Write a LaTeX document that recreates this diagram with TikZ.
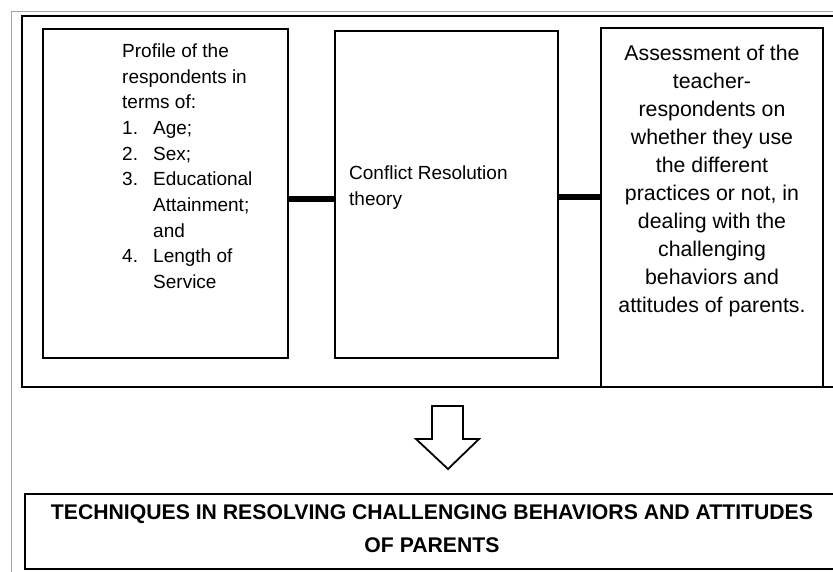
\documentclass[tikz,border=0pt]{standalone}
\usepackage{fontspec}
\setmainfont{Liberation Sans}

\newcommand{\numero}[1]{\makebox[31pt][l]{#1}}

\begin{document}
\begin{tikzpicture}[x=1pt, y=-1pt,
	caja/.style={draw, line width=2.6pt, inner sep=0pt},
	texto/.style={inner sep=0pt, font=\fontsize{19}{25.7}\selectfont},
	barra/.style={line width=6.5pt}]
	
	\useasboundingbox (0,0) rectangle (833,571);
	\clip (0,0) rectangle (833,571);
	
	% marco gris
	\draw[gray!70, line width=1pt] (11,575) -- (11,11) -- (840,11);
	
	% marco de arriba
	\node[caja, minimum width=840pt, minimum height=371pt] (marco) at (442,201.5) {};
	
	% las cajas
	\node[caja, minimum width=245pt, minimum height=329pt] (perfil) at (165.5,193.5) {};
	\node[caja, minimum width=223pt, minimum height=327pt] (teoria) at (446.5,194.5) {};
	\node[caja, minimum width=222pt, minimum height=359pt] (evaluacion) at (712,207.5) {};
	
	% los textos
	\node[texto, anchor=north west, align=left] (perfiltxt) at (122,43.4)
		{Profile of the\\respondents in\\terms of:\\
		\numero{1.}Age;\\\numero{2.}Sex;\\\numero{3.}Educational\\
		\hspace*{31pt}Attainment;\\\hspace*{31pt}and\\
		\numero{4.}Length of\\\hspace*{31pt}Service};
	\node[texto, anchor=north west, align=left] (teoriatxt) at (349,166)
		{Conflict Resolution\\theory};
	\node[texto, anchor=north, align=center, font=\fontsize{21.3}{28}\selectfont] (evaluaciontxt) at (712,44.8)
		{Assessment of the\\teacher-\\respondents on\\whether they use\\the different\\
		practices or not, in\\dealing with the\\challenging\\behaviors and\\attitudes of parents.};
	
	% las barras
	\draw[barra] ([yshift=-5.5pt]perfil.east) -- ([yshift=-5.5pt]perfil.east -| teoria.west);
	\draw[barra] ([yshift=-2.5pt]teoria.east) -- ([yshift=-2.5pt]teoria.east -| evaluacion.west);
	
	% flecha
	\draw[line width=1.8pt, line join=miter] (432,406) -- (463,406) -- (463,439) -- (479,439)
		-- (448,469) -- (416,439) -- (432,439) -- cycle;
	
	% caja de abajo
	\node[caja, minimum width=837pt, minimum height=75pt] (tecnicas) at (443.5,531.5) {};
	\node[texto, anchor=north, align=center, font=\bfseries\fontsize{21.2}{32.5}\selectfont] (tecnicastxt) at (432,504.8)
		{TECHNIQUES IN RESOLVING CHALLENGING BEHAVIORS AND ATTITUDES\\OF PARENTS};
\end{tikzpicture}
\end{document}
